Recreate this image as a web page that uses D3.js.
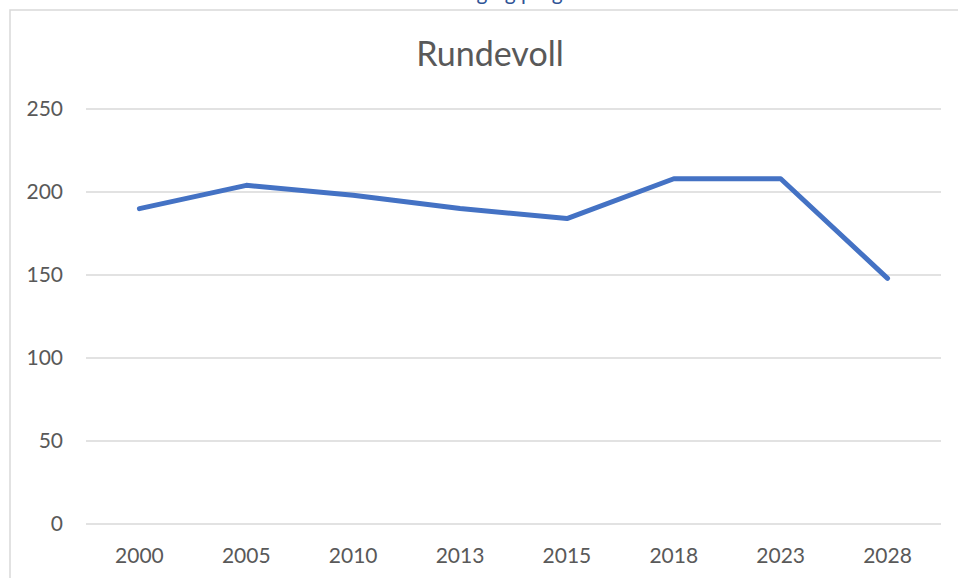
<!DOCTYPE html>
<html>
<head>
<meta charset="utf-8">
<script src="https://cdn.jsdelivr.net/npm/d3@7"></script>
<style>
  body { margin: 0; background: #fff; }
  text { font-family: Lato, "Open Sans", sans-serif; }
</style>
</head>
<body>
<div id="chart-area"></div>
<script>
const width = 958;
const height = 578;

// data
const years = ["2000", "2005", "2010", "2013", "2015", "2018", "2023", "2028"];
const values = [190, 204, 198, 190, 184, 208, 208, 148];
const yTicks = [0, 50, 100, 150, 200, 250];

const margin = { top: 109, right: 17, bottom: 54, left: 86 };

const svg = d3.select("#chart-area")
    .append("svg")
    .attr("width", width)
    .attr("height", height);

// heading text from the page above, only descenders visible
svg.append("text")
    .attr("x", 470)
    .attr("y", 0)
    .attr("text-anchor", "middle")
    .style("font-size", "21px")
    .style("fill", "#2f5496")
    .text("Elevtallsutvikling og prognose");

// chart frame
svg.append("rect")
    .attr("x", 10).attr("y", 10)
    .attr("width", width + 20).attr("height", height + 20)
    .attr("fill", "none")
    .attr("stroke", "#d9d9d9")
    .attr("stroke-width", 1.5);

const x = d3.scaleBand()
    .domain(years)
    .range([margin.left, width - margin.right]);

const y = d3.scaleLinear()
    .domain([0, 250])
    .range([height - margin.bottom, margin.top]);

// gridlines
svg.append("g")
    .selectAll("line")
    .data(yTicks)
    .enter().append("line")
    .attr("x1", margin.left)
    .attr("x2", width - margin.right)
    .attr("y1", d => y(d))
    .attr("y2", d => y(d))
    .attr("stroke", "#d9d9d9")
    .attr("stroke-width", 1.5);

// y labels
svg.append("g")
    .selectAll("text")
    .data(yTicks)
    .enter().append("text")
    .attr("x", 63)
    .attr("y", d => y(d))
    .attr("dy", "0.35em")
    .attr("text-anchor", "end")
    .style("font-size", "21px")
    .style("fill", "#595959")
    .text(d => d);

// x labels
svg.append("g")
    .selectAll("text")
    .data(years)
    .enter().append("text")
    .attr("x", d => x(d) + x.bandwidth() / 2)
    .attr("y", 563)
    .attr("text-anchor", "middle")
    .style("font-size", "21px")
    .style("fill", "#595959")
    .text(d => d);

// title
svg.append("text")
    .attr("x", 490)
    .attr("y", 66)
    .attr("text-anchor", "middle")
    .style("font-size", "34px")
    .style("fill", "#595959")
    .text("Rundevoll");

// line
const line = d3.line()
    .x((d, i) => x(years[i]) + x.bandwidth() / 2)
    .y(d => y(d));

svg.append("path")
    .datum(values)
    .attr("d", line)
    .attr("fill", "none")
    .attr("stroke", "#4472c4")
    .attr("stroke-width", 5)
    .attr("stroke-linecap", "round")
    .attr("stroke-linejoin", "round");
</script>
</body>
</html>
